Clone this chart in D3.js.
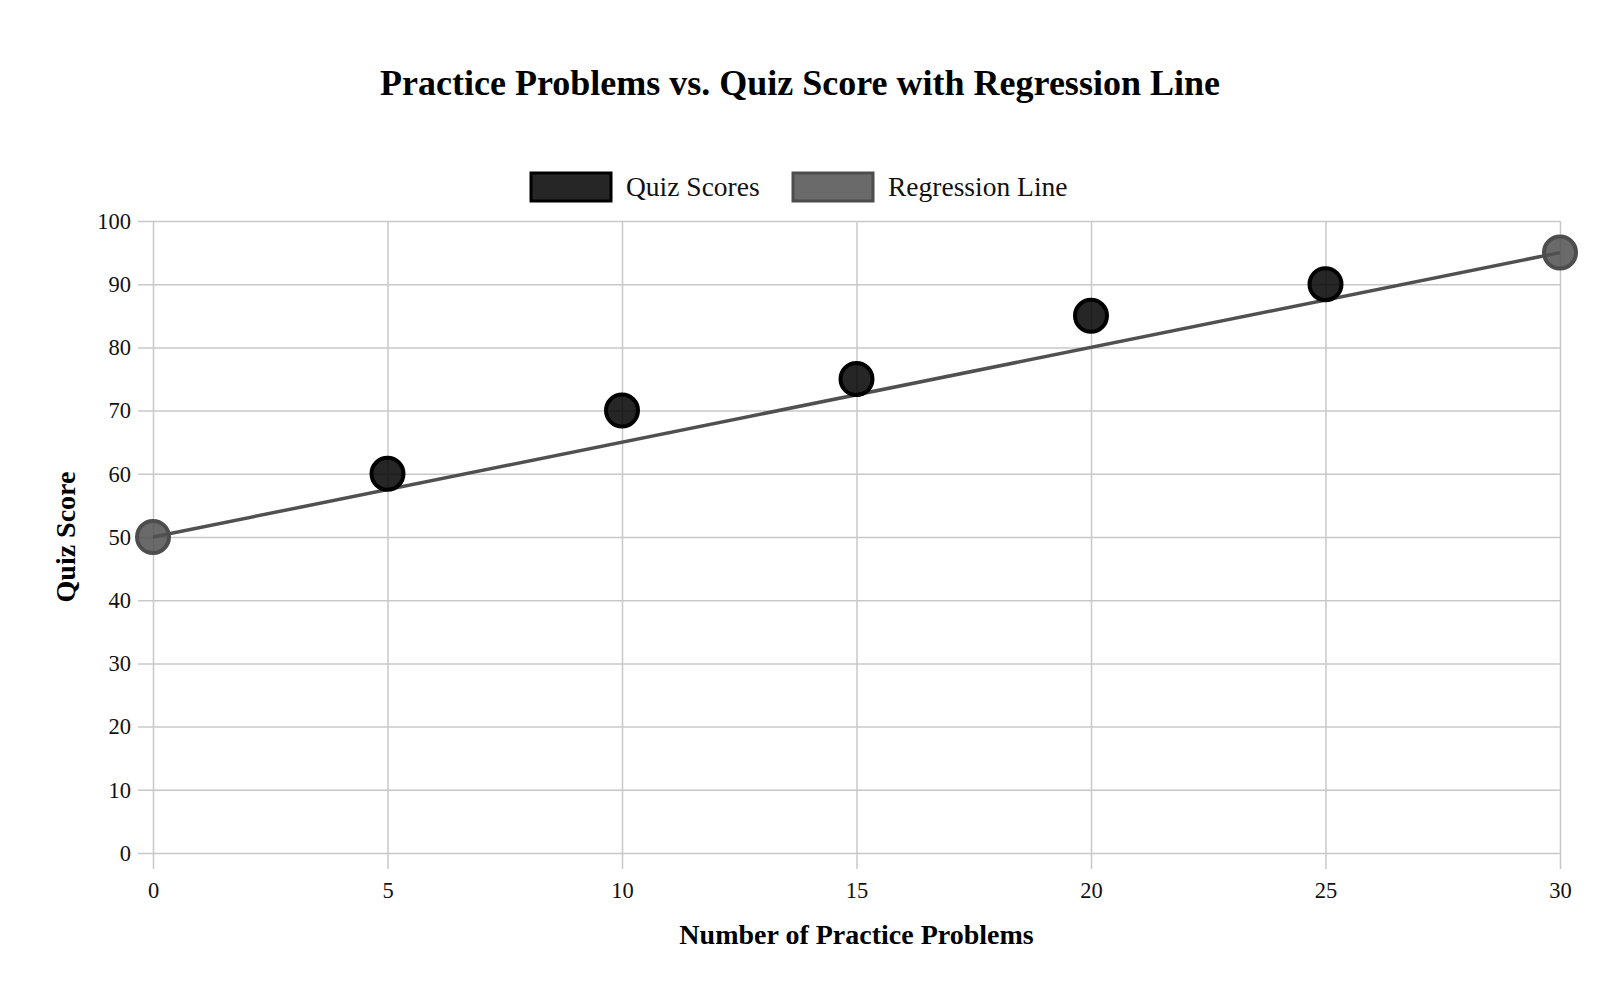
<!doctype html>
<html>
<head>
    <style>
        body { margin: 0; background: #fff; }
        svg { font-family: "Liberation Serif", "Times New Roman", serif; }
        .grid line { stroke: #c8c8c8; stroke-width: 1.5; }
        .grid text { fill: #111; font-size: 22.5px; }
    </style>
    <script src="https://d3js.org/d3.v7.min.js"></script>
</head>
<body>
    <svg width="1600" height="1000"></svg>
    <script>
        // data
        var problems = [5, 10, 15, 20, 25];      // x
        var scores = [60, 70, 75, 85, 90];       // y
        var regX = [0, 30];
        var regY = [50, 95];
        var xTicks = [0, 5, 10, 15, 20, 25, 30];
        var yTicks = [0, 10, 20, 30, 40, 50, 60, 70, 80, 90, 100];
        var seriesNames = ["Quiz Scores", "Regression Line"];

        var svg = d3.select("svg"),
            margin = { top: 221, right: 40, bottom: 147, left: 153 },
            width = svg.attr("width") - margin.left - margin.right,
            height = svg.attr("height") - margin.top - margin.bottom;

        var g = svg.append("g")
            .attr("transform", "translate(" + margin.left + "," + margin.top + ")");

        var x = d3.scaleLinear().domain([0, 30]).range([0, width]);
        var y = d3.scaleLinear().domain([0, 100]).range([height, 0]);

        // grid + axes (tick lines stretched across the plot)
        var yAxis = g.append("g")
            .attr("class", "grid")
            .call(d3.axisLeft(y).tickValues(yTicks).tickSize(-width).tickPadding(22));
        yAxis.selectAll("line").attr("x1", -15);

        var xAxis = g.append("g")
            .attr("class", "grid")
            .attr("transform", "translate(0," + height + ")")
            .call(d3.axisBottom(x).tickValues(xTicks).tickSize(-height).tickPadding(29));
        xAxis.selectAll("line").attr("y1", 16);

        g.selectAll(".grid .domain").remove();
        g.selectAll(".grid").attr("font-family", null).attr("font-size", null);

        // regression line
        var regPts = regX.map(function (d, i) { return [d, regY[i]]; });
        g.append("path")
            .datum(regPts)
            .attr("fill", "none")
            .attr("stroke", "#505050")
            .attr("stroke-width", 3.5)
            .attr("d", d3.line().x(function (d) { return x(d[0]); }).y(function (d) { return y(d[1]); }));

        g.selectAll(".reg")
            .data(regPts)
            .enter().append("circle")
            .attr("class", "reg")
            .attr("cx", function (d) { return x(d[0]); })
            .attr("cy", function (d) { return y(d[1]); })
            .attr("r", 16)
            .attr("fill", "rgba(80,80,80,0.85)")
            .attr("stroke", "#4d4d4d")
            .attr("stroke-width", 4);

        // quiz score points
        g.selectAll(".pt")
            .data(problems)
            .enter().append("circle")
            .attr("class", "pt")
            .attr("cx", function (d) { return x(d); })
            .attr("cy", function (d, i) { return y(scores[i]); })
            .attr("r", 16)
            .attr("fill", "rgba(0,0,0,0.85)")
            .attr("stroke", "#000")
            .attr("stroke-width", 4);

        // title
        svg.append("text")
            .attr("x", 800)
            .attr("y", 95)
            .attr("text-anchor", "middle")
            .attr("font-size", 36)
            .attr("font-weight", "bold")
            .text("Practice Problems vs. Quiz Score with Regression Line");

        // axis titles
        svg.append("text")
            .attr("x", margin.left + width / 2)
            .attr("y", 944)
            .attr("text-anchor", "middle")
            .attr("font-size", 28)
            .attr("font-weight", "bold")
            .text("Number of Practice Problems");

        svg.append("text")
            .attr("transform", "translate(75," + (margin.top + height / 2) + ") rotate(-90)")
            .attr("text-anchor", "middle")
            .attr("font-size", 28)
            .attr("font-weight", "bold")
            .text("Quiz Score");

        // legend
        var legendFill = ["rgba(0,0,0,0.85)", "rgba(80,80,80,0.85)"];
        var legendStroke = ["#000", "#4d4d4d"];
        var legend = svg.append("g").attr("transform", "translate(531,173)");
        var offs = [0, 262];
        seriesNames.forEach(function (name, i) {
            var item = legend.append("g").attr("transform", "translate(" + offs[i] + ",0)");
            item.append("rect")
                .attr("width", 80)
                .attr("height", 28)
                .attr("fill", legendFill[i])
                .attr("stroke", legendStroke[i])
                .attr("stroke-width", 3);
            item.append("text")
                .attr("x", 95)
                .attr("y", 23)
                .attr("font-size", 27.5)
                .attr("fill", "#111")
                .text(name);
        });
    </script>
</body>
</html>
